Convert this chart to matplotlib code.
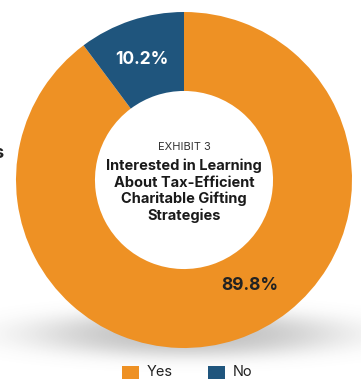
import numpy as np
import matplotlib
matplotlib.use("Agg")
import matplotlib.pyplot as plt
from matplotlib.patches import Rectangle

# Survey responses
categories = ["Yes", "No"]
shares = [89.8, 10.2]
colors = ["#EE9124", "#1F557D"]
title_small = "EXHIBIT 3"
title_main = "Interested in Learning\nAbout Tax-Efficient\nCharitable Gifting\nStrategies"

plt.rcParams["font.family"] = ["Inter", "DejaVu Sans"]

W, H = 361, 379
fig = plt.figure(figsize=(W / 100, H / 100), dpi=100)
fig.patch.set_facecolor("white")

def px_axes(x0, y0, x1, y1):
    # axes from pixel box measured from the top-left corner
    return fig.add_axes([x0 / W, 1 - y1 / H, (x1 - x0) / W, (y1 - y0) / H])

# soft drop shadow under the ring
sh = px_axes(0, 270, W, 379)
xs = np.linspace(0, W, 400)
ys = np.linspace(270, 379, 220)
X, Y = np.meshgrid(xs, ys)
d = ((X - 188) / 158) ** 2 + ((Y - 334) / 24) ** 2
alpha = 0.42 * np.exp(-d ** 1.5 * 1.1)
img = np.ones((len(ys), len(xs), 4))
img[..., :3] = 0.45
img[..., 3] = alpha
sh.imshow(img, extent=(0, W, 379, 270), aspect="auto", interpolation="bilinear")
sh.set_xlim(0, W)
sh.set_ylim(379, 270)
sh.axis("off")

# donut
cx, cy, r = 184, 180, 168
ax = px_axes(cx - r, cy - r, cx + r, cy + r)
wedges, _ = ax.pie(shares, colors=colors, startangle=90, counterclock=False,
                   radius=1.0, wedgeprops=dict(width=0.47, linewidth=0))
ax.set_xlim(-1, 1)
ax.set_ylim(-1, 1)
ax.set_aspect("equal")
ax.axis("off")

# value labels
ax.text(-0.25, 0.72, f"{shares[1]:.1f}%", color="white", fontsize=12.5,
        fontweight="bold", ha="center", va="center")
ax.text(0.39, -0.625, f"{shares[0]:.1f}%", color="#222222", fontsize=12.5,
        fontweight="bold", ha="center", va="center")

# centre title
ax.text(0.0, (cy - 147) / r, title_small, color="#333333", fontsize=8,
        ha="center", va="center")
ax.text(0.0, (cy - 191) / r, title_main, color="#1a1a1a", fontsize=10.5,
        fontweight="bold", ha="center", va="center", linespacing=1.2)

# clipped text at the left edge
fig.text(3.5 / W, 1 - 154 / H, "s", fontsize=13, fontweight="bold",
         color="#222222", ha="right", va="center")

# legend
for (x0, label), col in zip([(122, categories[0]), (208, categories[1])], colors):
    fig.patches.append(Rectangle((x0 / W, 1 - 383 / H), 17 / W, 17 / H,
                                 transform=fig.transFigure, color=col,
                                 linewidth=0))
    fig.text((x0 + 25) / W, 1 - 372 / H, label, fontsize=10.5,
             color="#222222", ha="left", va="center")

fig.savefig("out.png", dpi=100, facecolor="white")
